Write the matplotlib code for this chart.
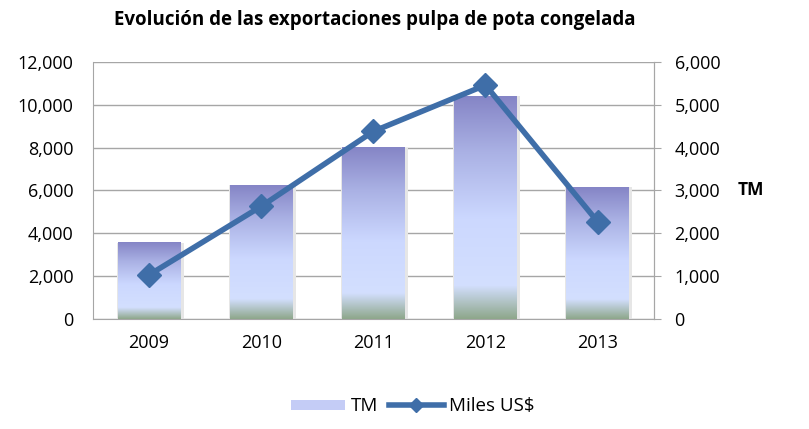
import matplotlib
matplotlib.use("Agg")
import matplotlib.pyplot as plt
import numpy as np
from matplotlib.colors import LinearSegmentedColormap
from matplotlib.ticker import FuncFormatter, MultipleLocator
from matplotlib.patches import Patch
from matplotlib.lines import Line2D

years = ["2009", "2010", "2011", "2012", "2013"]
tm_values = [3550, 6250, 8000, 10400, 6150]
usd_values = [1030, 2630, 4380, 5460, 2270]

title = "Evolución de las exportaciones pulpa de pota congelada"
bar_label = "TM"
line_label = "Miles US$"
right_axis_label = "TM"

plt.rcParams['font.family'] = ['Open Sans', 'DejaVu Sans']

fig = plt.figure(figsize=(8.09, 4.29), dpi=100)
ax = fig.add_axes([0.115, 0.2565, 0.693, 0.599])
ax2 = ax.twinx()

cmap = LinearSegmentedColormap.from_list(
    "bar", [(0.0, "#8ea78b"), (0.15, "#d3dffe"), (0.45, "#ccd8ff"),
            (0.75, "#aab1e4"), (1.0, "#8585c6")])
grad = np.linspace(0, 1, 256).reshape(-1, 1)

x = np.arange(len(years))
width = 0.56
# soft shadow
ax.bar(x + 0.01, tm_values, width=width + 0.035, color="#e6e6e6", zorder=2)
bars = ax.bar(x, tm_values, width=width, color="none", zorder=3)
for b in bars:
    x0, y0 = b.get_x(), b.get_y()
    ax.imshow(grad, cmap=cmap, origin="lower", aspect="auto",
              extent=[x0, x0 + b.get_width(), y0, y0 + b.get_height()], zorder=3)

ax.set_xlim(-0.5, len(years) - 0.5)
ax.set_ylim(0, 12000)
ax.yaxis.set_major_locator(MultipleLocator(2000))
fmt = FuncFormatter(lambda v, p: f"{int(v):,}")
ax.yaxis.set_major_formatter(fmt)
ax.set_xticks(x)
ax.set_xticklabels(years)
ax.grid(axis="y", color="#a6a6a6", linewidth=1.0, zorder=0)
ax.set_axisbelow(True)
ax.tick_params(axis="y", length=0, pad=14, labelsize=13, colors="#000000")
ax.tick_params(axis="x", length=0, pad=11, labelsize=13)
ax.spines["top"].set_visible(False)
for s in ["left", "bottom", "right"]:
    ax.spines[s].set_color("#a6a6a6")

ax2.plot(x, usd_values, color="#3f6ea8", linewidth=4.0, marker="D",
         markersize=12, markeredgecolor="#3f6ea8", zorder=5)
ax2.set_ylim(0, 6000)
ax2.yaxis.set_major_locator(MultipleLocator(1000))
ax2.yaxis.set_major_formatter(fmt)
ax2.tick_params(axis="y", direction="out", length=5, color="#a6a6a6",
                pad=10, labelsize=13)
ax2.spines["top"].set_visible(False)
ax2.spines["left"].set_visible(False)
ax2.spines["bottom"].set_visible(False)
ax2.spines["right"].set_color("#a6a6a6")
ax2.set_ylabel(right_axis_label, rotation=0, fontsize=12.5, fontweight="bold",
               labelpad=22, va="center")

fig.text(0.463, 0.953, title, ha="center", va="center", fontsize=13.5,
         fontweight="bold")

handles = [Patch(facecolor="#c4ccf6", edgecolor="none", label=bar_label),
           Line2D([0], [0], color="#3f6ea8", linewidth=4.0, marker="D",
                  markersize=7, label=line_label)]
fig.legend(handles=handles, loc="center", bbox_to_anchor=(0.51, 0.053),
           ncol=2, frameon=False, fontsize=13.5, handlelength=2.9,
           handletextpad=0.3, columnspacing=0.6, handleheight=0.45)

fig.savefig("out.png", dpi=100)
